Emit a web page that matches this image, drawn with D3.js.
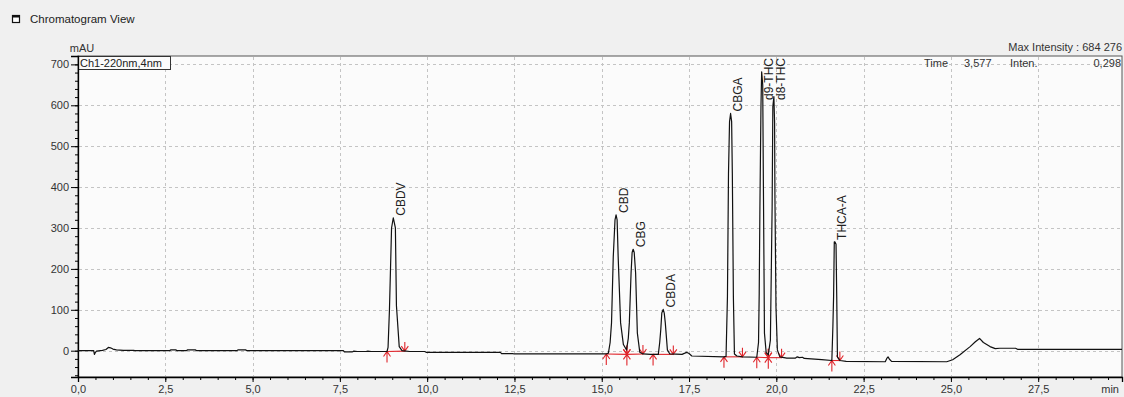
<!DOCTYPE html>
<html><head><meta charset="utf-8">
<script src="https://cdn.jsdelivr.net/npm/d3@7"></script>
<style>
html,body{margin:0;padding:0;background:#f0f0f0;}
svg{display:block;font-family:"Liberation Sans",Arial,sans-serif;}
</style>
</head><body>
<svg id="chart" width="1124" height="397"></svg>
<script>
// ---------- data ----------
const xTickValues = [0, 2.5, 5, 7.5, 10, 12.5, 15, 17.5, 20, 22.5, 25, 27.5];
const xTickLabels = ["0,0","2,5","5,0","7,5","10,0","12,5","15,0","17,5","20,0","22,5","25,0","27,5"];
const yTickValues = [0, 100, 200, 300, 400, 500, 600, 700];
const yTickLabels = ["0","100","200","300","400","500","600","700"];

// chromatogram trace: [time (min), intensity (mAU)]
const trace = [
 [0.00,0],[0.45,0],[0.47,-9],[0.50,-4],[0.53,-1],[0.70,1],[0.80,3],[0.87,8],[0.93,7],[1.00,4],[1.10,2],[1.30,1],[1.60,1],[1.63,0],
 [2.62,0],[2.66,2],[2.80,2],[2.84,0],
 [3.10,0],[3.14,2],[3.36,2],[3.40,0],
 [4.55,0],[4.58,2],[4.80,2],[4.84,0],
 [7.60,0],[7.63,-3],[7.85,-3],[7.90,-1],[8.00,-2],[8.25,-2],[8.30,-1],[8.40,-2],[8.85,-2],
 [8.88,8],[8.92,100],[8.98,300],[9.03,325],[9.09,300],[9.12,110],[9.20,10],[9.28,0],[9.40,-1],[9.50,-2],[9.93,-2],[9.97,-4],
 [12.10,-4],[12.13,-7],[12.45,-7],[12.50,-8],[15.13,-8],
 [15.19,-6],[15.24,20],[15.28,68],[15.33,230],[15.38,320],[15.41,332],[15.44,320],[15.47,230],[15.54,68],[15.62,15],[15.71,2],
 [15.76,30],[15.79,68],[15.84,190],[15.87,240],[15.90,248],[15.93,240],[15.97,190],[16.02,43],[16.09,-4],[16.18,-8],[16.40,-9],[16.62,-9],
 [16.66,20],[16.69,51],[16.72,92],[16.76,101],[16.79,92],[16.82,68],[16.88,2],[16.95,-8],[17.30,-9],
 [17.38,-6],[17.43,-4],[17.50,-7],[17.58,-13],[18.50,-15],
 [18.56,-14],[18.60,132],[18.63,434],[18.66,560],[18.69,580],[18.72,560],[18.74,434],[18.77,132],[18.80,-8],[18.87,-13],[19.03,-15],[19.44,-16],
 [19.49,20],[19.51,141],[19.53,352],[19.56,597],[19.58,682],[19.61,650],[19.63,401],[19.66,43],[19.71,-5],[19.77,-10],
 [19.83,26],[19.88,352],[19.90,597],[19.93,621],[19.95,560],[19.96,377],[19.99,107],[20.03,2],[20.10,-15],[20.30,-18],[20.55,-18],[20.60,-15],[20.66,-17],[20.75,-16],[20.80,-19],[21.00,-20],[21.30,-22],[21.59,-24],
 [21.62,60],[21.64,132],[21.66,266],[21.68,266],[21.71,260],[21.73,132],[21.75,-15],[21.82,-24],[22.00,-26],[23.12,-27],
 [23.17,-18],[23.20,-15],[23.24,-21],[23.30,-26],[24.88,-27],
 [25.05,-22],[25.26,-10],[25.55,10],[25.70,22],[25.82,30],[25.93,20],[26.12,10],[26.27,5],[26.40,6],[26.85,6],[26.92,3],[29.90,3]
];

// identified peaks
const peakNames     = ["CBDV","CBD","CBG","CBDA","CBGA","d9-THC","d8-THC","THCA-A"];
const peakApexTime  = [9.03, 15.41, 15.90, 16.76, 18.69, 19.58, 19.93, 21.68];
const peakApexMAU   = [325, 332, 248, 101, 580, 682, 621, 266];
const peakStartTime = [8.85, 15.13, 15.72, 16.47, 18.50, 19.44, 19.77, 21.59];
const peakStartMAU  = [-2, -8, -9, -9, -15, -16, -17, -24];
const peakEndTime   = [9.36, 15.72, 16.18, 17.05, 19.03, 19.77, 20.15, 21.82];
const peakEndMAU    = [-1, -9, -8, -9, -15, -17, -17, -24];

const titleText = "Chromatogram View";
const yUnit = "mAU";
const xUnit = "min";
const channelText = "Ch1-220nm,4nm";
const maxIntensityText = "Max Intensity : 684 276";
const cursorTexts = ["Time", "3,577", "Inten.", "0,298"];

// ---------- layout ----------
const L = 78, R = 1122, T = 56, B = 377;
const svg = d3.select("#chart");
const x = d3.scaleLinear().domain([0, 29.9]).range([L, R]);
const y = d3.scaleLinear().domain([-64.3, 720.5]).range([B, T]);

// header
svg.append("rect").attr("x",12.5).attr("y",15.5).attr("width",7).attr("height",7)
  .attr("fill","#fff").attr("stroke","#111").attr("stroke-width",1.2);
svg.append("rect").attr("x",12).attr("y",15).attr("width",8).attr("height",2.5).attr("fill","#111");
svg.append("text").attr("x",30).attr("y",23).attr("font-size",11.5).attr("fill","#222").text(titleText);

// plot background
svg.append("rect").attr("x",L).attr("y",T).attr("width",R-L).attr("height",B-T)
  .attr("fill","#fbfbfb").attr("stroke","#555").attr("stroke-width",1);

// grid
const grid = svg.append("g").attr("stroke","#c4c4c4").attr("stroke-dasharray","3,3").attr("stroke-width",1);
grid.selectAll("line.h").data(yTickValues).join("line")
  .attr("x1",L+1).attr("x2",R-1).attr("y1",d=>Math.round(y(d))+0.5).attr("y2",d=>Math.round(y(d))+0.5);
grid.selectAll("line.v").data(xTickValues.slice(1)).join("line")
  .attr("y1",T+1).attr("y2",B-1).attr("x1",d=>Math.round(x(d))+0.5).attr("x2",d=>Math.round(x(d))+0.5);

// channel box
const chG = svg.append("g");
chG.append("rect").attr("x",L+0.5).attr("y",T+0.5).attr("width",92).attr("height",13)
  .attr("fill","#fbfbfb").attr("stroke","#333");
chG.append("text").attr("x",L+2).attr("y",T+11).attr("font-size",11).attr("fill","#222").text(channelText);

// axes
const axisY = svg.append("g").attr("transform",`translate(${L},0)`)
  .call(d3.axisLeft(y).tickValues(yTickValues).tickFormat((d,i)=>yTickLabels[i]).tickSize(7).tickPadding(2));
const axisYMinor = svg.append("g").attr("transform",`translate(${L},0)`)
  .call(d3.axisLeft(y).tickValues(d3.range(-60, 720, 20)).tickFormat("").tickSize(3));
const axisX = svg.append("g").attr("transform",`translate(0,${B})`)
  .call(d3.axisBottom(x).tickValues(xTickValues).tickFormat((d,i)=>xTickLabels[i]).tickSize(5).tickPadding(3));
const axisXMinor = svg.append("g").attr("transform",`translate(0,${B})`)
  .call(d3.axisBottom(x).tickValues(d3.range(0.5, 29.9, 0.5)).tickFormat("").tickSize(3));
[axisY, axisYMinor, axisX, axisXMinor].forEach(g=>{
  g.select(".domain").attr("stroke","#000").attr("stroke-width",1.3);
  g.selectAll(".tick line").attr("stroke","#000");
  g.selectAll("text").attr("font-size",11).attr("fill","#333").attr("font-family","Liberation Sans, Arial, sans-serif");
});
axisYMinor.select(".domain").remove();
axisXMinor.select(".domain").remove();
axisX.selectAll(".tick").filter(d=>d===0).select("line").remove();

svg.append("text").attr("x",82).attr("y",52).attr("font-size",11).attr("fill","#333")
  .attr("text-anchor","middle").text(yUnit);
svg.append("text").attr("x",1119).attr("y",393).attr("font-size",11).attr("fill","#333")
  .attr("text-anchor","end").text(xUnit);

// header info
svg.append("text").attr("x",1122).attr("y",51).attr("font-size",11).attr("fill","#333")
  .attr("text-anchor","end").text(maxIntensityText);
const infoX = [924, 964, 1010, 1121];
const infoAnchor = ["start","start","start","end"];
cursorTexts.forEach((t,i)=>{
  svg.append("text").attr("x",infoX[i]).attr("y",67).attr("font-size",11).attr("fill","#333")
    .attr("text-anchor",infoAnchor[i]).text(t);
});

// integration baselines and markers
const red = "#e0262c";
const rg = svg.append("g").attr("stroke",red).attr("stroke-width",1.1).attr("fill","none");
peakNames.forEach((n,i)=>{
  rg.append("line").attr("x1",x(peakStartTime[i])).attr("y1",y(peakStartMAU[i]))
    .attr("x2",x(peakEndTime[i])).attr("y2",y(peakEndMAU[i]));
});
function upArrow(px,py){ return `M${px},${py+11}L${px},${py}M${px-3.5},${py+5}L${px},${py}L${px+3.5},${py+5}`; }
function downArrow(px,py){ return `M${px},${py-9}L${px},${py}M${px-3.5},${py-5}L${px},${py}L${px+3.5},${py-5}`; }
peakNames.forEach((n,i)=>{
  const sx = x(peakStartTime[i]), sy = y(peakStartMAU[i]);
  const ex = x(peakEndTime[i]), ey = y(peakEndMAU[i]);
  const sharedStart = i>0 && peakEndTime[i-1]===peakStartTime[i];
  let d = upArrow(sx, sy);
  if (sharedStart) d += downArrow(sx, sy);
  d += downArrow(ex, ey);
  rg.append("path").attr("d", d);
});

// trace
svg.append("path").datum(trace)
  .attr("fill","none").attr("stroke","#111").attr("stroke-width",1.2).attr("stroke-linejoin","round")
  .attr("d", d3.line().x(d=>x(d[0])).y(d=>y(d[1])));

// peak labels
const lg = svg.append("g");
peakNames.forEach((n,i)=>{
  const px = x(peakApexTime[i]) + 11.5;
  const py = y(peakApexMAU[i]) - 2;
  const t = lg.append("text").attr("font-size",12).attr("fill","#222").text(n);
  const w = t.node().getComputedTextLength();
  if (py - w < T + 2) {
    t.attr("text-anchor","end").attr("transform",`translate(${px},${T+2}) rotate(-90)`);
  } else {
    t.attr("text-anchor","start").attr("transform",`translate(${px},${py}) rotate(-90)`);
  }
});
</script>
</body></html>
